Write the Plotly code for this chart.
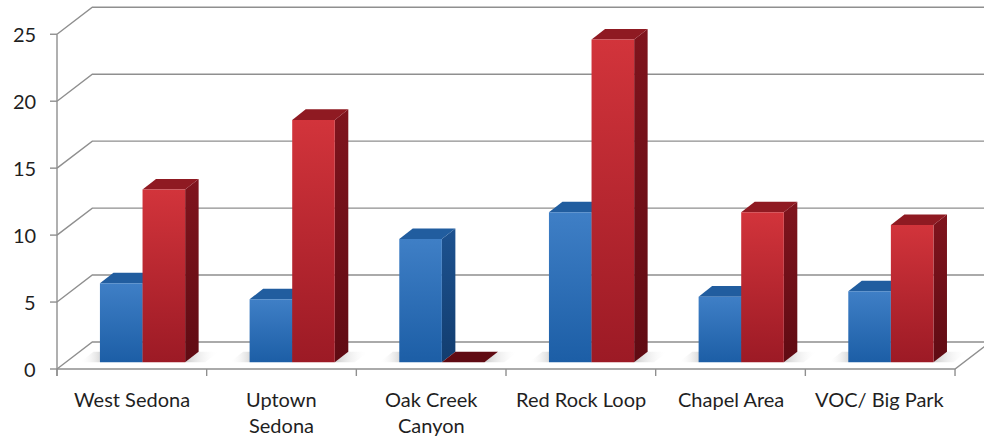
import plotly.graph_objects as go

# ---------------- data ----------------
categories = ["West Sedona", "Uptown<br>Sedona", "Oak Creek<br>Canyon",
              "Red Rock Loop", "Chapel Area", "VOC/ Big Park"]
blue_values = [5.9, 4.7, 9.2, 11.2, 4.9, 5.3]
red_values = [12.9, 18.1, 0.0, 24.1, 11.2, 10.25]
y_ticks = [0, 5, 10, 15, 20, 25]

# ---------------- geometry (axis units) ----------------
PXX = 149.67   # px per category
PXY = 13.39    # px per value unit
X0, Y0 = 57, 369
W, H = 984, 436
x_range = [-X0 / PXX, (W - X0) / PXX]
y_range = [(Y0 - H) / PXY, Y0 / PXY]

WDX, WDY = 35.3 / PXX, 27.0 / PXY        # wall depth
BFX, BFY = 10.7 / PXX, 6.7 / PXY         # bar front offset
BBX, BBY = 24.2 / PXX, 17.3 / PXY        # bar back offset
BW = 0.2846                              # bar width (category units)
n = len(categories)
ymax = max(y_ticks)

GRID = "#8f8f8f"
FONT = dict(family="Lato", size=20, color="#1f1f1f")
fig = go.Figure()


def poly(xs, ys, color=None, grad=None):
    kw = dict(x=list(xs) + [xs[0]], y=list(ys) + [ys[0]], mode="lines",
              line=dict(width=0, color="rgba(0,0,0,0)"), fill="toself",
              hoverinfo="skip", showlegend=False)
    if grad is not None:
        kw["fillgradient"] = grad
    else:
        kw["fillcolor"] = color
    fig.add_trace(go.Scatter(**kw))


def line(xs, ys, color=GRID, width=1.4):
    fig.add_trace(go.Scatter(x=xs, y=ys, mode="lines",
                             line=dict(color=color, width=width),
                             hoverinfo="skip", showlegend=False))


# back wall gridlines and left wall diagonals
for v in y_ticks:
    line([0, WDX, n + WDX], [v, v + WDY, v + WDY])
# floor front edge and right edge
line([0, n, n + WDX], [0, 0, WDY])
# y axis line
line([0, 0], [-7 / PXY, ymax])
# y ticks
for v in y_ticks:
    line([-7 / PXX, 0], [v, v])
# category ticks
for k in range(n + 1):
    line([k, k], [0, -7 / PXY])

# floor shadows
for i in range(n):
    c = i + 0.5
    xl = c - BW
    xr = c + BW
    sw = 20 / PXX
    poly([xl - sw + BFX, xl + BFX, xl + BBX, xl - sw + BBX],
         [BFY, BFY, BBY, BBY],
         grad=dict(type="horizontal",
                   colorscale=[[0, "rgba(255,255,255,0)"], [1, "rgba(130,130,130,0.8)"]]))
    poly([xr + BBX, xr + BBX + sw, xr + BFX + sw, xr + BFX],
         [BBY, BBY, BFY, BFY],
         grad=dict(type="horizontal",
                   colorscale=[[0, "rgba(170,170,170,0.6)"], [1, "rgba(255,255,255,0)"]]))


def bar(x0, x1, v, front_top, front_bot, top_col, side_top, side_bot):
    if v > 0:
        # side face
        poly([x1 + BFX, x1 + BBX, x1 + BBX, x1 + BFX],
             [BFY, BBY, v + BBY, v + BFY],
             grad=dict(type="vertical", colorscale=[[0, side_bot], [1, side_top]]))
    # top face (flat base cap when the value is zero)
    poly([x0 + BFX, x1 + BFX, x1 + BBX, x0 + BBX],
         [v + BFY, v + BFY, v + BBY, v + BBY],
         color=top_col if v > 0 else side_bot)
    if v > 0:
        # front face
        poly([x0 + BFX, x1 + BFX, x1 + BFX, x0 + BFX],
             [BFY, BFY, v + BFY, v + BFY],
             grad=dict(type="vertical", colorscale=[[0, front_bot], [1, front_top]]))


for i in range(n):
    c = i + 0.5
    bar(c - BW, c, blue_values[i], "#3f7fc6", "#1c5ea6", "#215d9f", "#1d5290", "#123d6f")
    bar(c, c + BW, red_values[i], "#d2343b", "#9c1a25", "#8f1a22", "#7f141d", "#600b13")

# ---------------- text ----------------
ann = []
for v in y_ticks:
    ann.append(dict(x=-19 / PXX, y=v, xref="x", yref="y", text=str(v),
                    showarrow=False, xanchor="right", yanchor="middle", font=FONT))
line_y = [(Y0 - 399) / PXY, (Y0 - 425) / PXY]
for i, cat in enumerate(categories):
    for j, part in enumerate(cat.split("<br>")):
        ann.append(dict(x=i + 0.5, y=line_y[j], xref="x", yref="y", text=part,
                        showarrow=False, xanchor="center", yanchor="middle", font=FONT))

fig.update_layout(
    width=W, height=H, margin=dict(l=0, r=0, t=0, b=0),
    paper_bgcolor="white", plot_bgcolor="white", showlegend=False,
    xaxis=dict(range=x_range, visible=False, fixedrange=True),
    yaxis=dict(range=y_range, visible=False, fixedrange=True),
    annotations=ann,
)
fig.write_html("out.html")
